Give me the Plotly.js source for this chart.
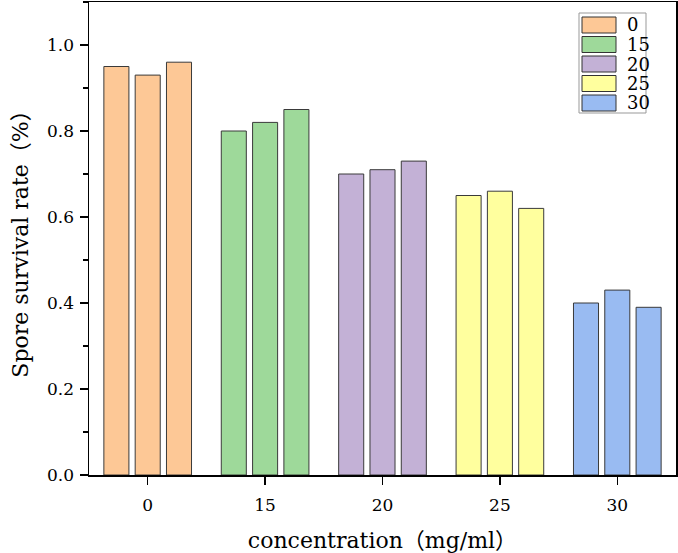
<!DOCTYPE html>
<html>
<head>
<meta charset="utf-8">
<script src="https://cdn.plot.ly/plotly-3.0.1.min.js"></script>
<style>
  html, body { margin: 0; padding: 0; background: #fff; }
  #chart { width: 678px; height: 553px; }
</style>
</head>
<body>
<div id="chart"></div>
<script>
// Concentration groups (mg/ml) and three replicate survival rates per group
const concentrations = ['0', '15', '20', '25', '30'];
const replicate1 = [0.95, 0.80, 0.70, 0.65, 0.40];
const replicate2 = [0.93, 0.82, 0.71, 0.66, 0.43];
const replicate3 = [0.96, 0.85, 0.73, 0.62, 0.39];
const groupColors = ['#FDC896', '#9ED99A', '#C3B1D6', '#FFFF9E', '#99BBF2'];

const replicates = [replicate1, replicate2, replicate3];
const FONT = '"DejaVu Serif", "Noto Sans CJK SC", serif';

// One bar per (group, replicate); replicates share an offset slot so each
// group shows three side-by-side bars in the group's own colour.
const traces = [];
concentrations.forEach((c, i) => {
  replicates.forEach((rep, r) => {
    traces.push({
      type: 'bar',
      x: [c],
      y: [rep[i]],
      offsetgroup: 'rep' + r,
      legendgroup: c,
      name: c,
      showlegend: false,
      marker: { color: groupColors[i], line: { color: '#3a3a3a', width: 1 } },
      hoverinfo: 'x+y'
    });
  });
});

// Plot area in pixels: left 89, right 676, top 2, bottom 475
const W = 678, H = 553;
const L = 89, R = 676, T = 2, B = 475;
const toPX = x => (x - L) / (R - L);
const toPY = y => (B - y) / (B - T);

// Legend drawn as boxed swatches in the upper-right corner
const shapes = [];
const annotations = [];
shapes.push({
  type: 'rect', xref: 'paper', yref: 'paper',
  x0: toPX(579), x1: toPX(646), y0: toPY(113), y1: toPY(13),
  line: { color: '#999999', width: 1 }, fillcolor: 'rgba(0,0,0,0)'
});
concentrations.forEach((c, i) => {
  const cy = 25 + i * 19.5;
  shapes.push({
    type: 'rect', xref: 'paper', yref: 'paper',
    x0: toPX(582), x1: toPX(616), y0: toPY(cy + 8), y1: toPY(cy - 8),
    line: { color: '#333333', width: 1 }, fillcolor: groupColors[i]
  });
  annotations.push({
    xref: 'paper', yref: 'paper', x: toPX(625), y: toPY(cy),
    xanchor: 'left', yanchor: 'middle', showarrow: false,
    text: c, font: { family: FONT, size: 18, color: '#000' }
  });
});

const layout = {
  width: W, height: H,
  margin: { l: L, r: W - R, t: T, b: H - B, pad: 0 },
  paper_bgcolor: '#fff', plot_bgcolor: '#fff',
  showlegend: false,
  barmode: 'group',
  bargap: 0.2,
  bargroupgap: 0.2,
  font: { family: FONT, color: '#000' },
  xaxis: {
    type: 'category',
    categoryorder: 'array', categoryarray: concentrations,
    range: [-0.5, 4.5],
    showline: true, linecolor: '#000', linewidth: 1.5, mirror: true,
    ticks: 'outside', ticklen: 8, tickwidth: 1.5, tickcolor: '#000',
    ticklabelstandoff: 6,
    tickfont: { family: FONT, size: 17, color: '#000' },
    showgrid: false, zeroline: false,
    title: { text: 'concentration（mg/ml）', font: { family: FONT, size: 22, color: '#000' }, standoff: 18 },
    automargin: false
  },
  yaxis: {
    range: [0, 1.1],
    dtick: 0.2, tick0: 0, tickformat: '.1f',
    showline: true, linecolor: '#000', linewidth: 1.5, mirror: true,
    ticks: 'outside', ticklen: 8, tickwidth: 1.5, tickcolor: '#000',
    ticklabelstandoff: 2,
    minor: { dtick: 0.1, ticks: 'outside', ticklen: 5, tickwidth: 1.5, tickcolor: '#000' },
    tickfont: { family: FONT, size: 17, color: '#000' },
    showgrid: false, zeroline: false,
    title: { text: 'Spore survival rate（%）', font: { family: FONT, size: 22, color: '#000' }, standoff: 12 },
    automargin: false
  },
  shapes: shapes,
  annotations: annotations
};

Plotly.newPlot('chart', traces, layout, { displayModeBar: false, staticPlot: true });
</script>
</body>
</html>
